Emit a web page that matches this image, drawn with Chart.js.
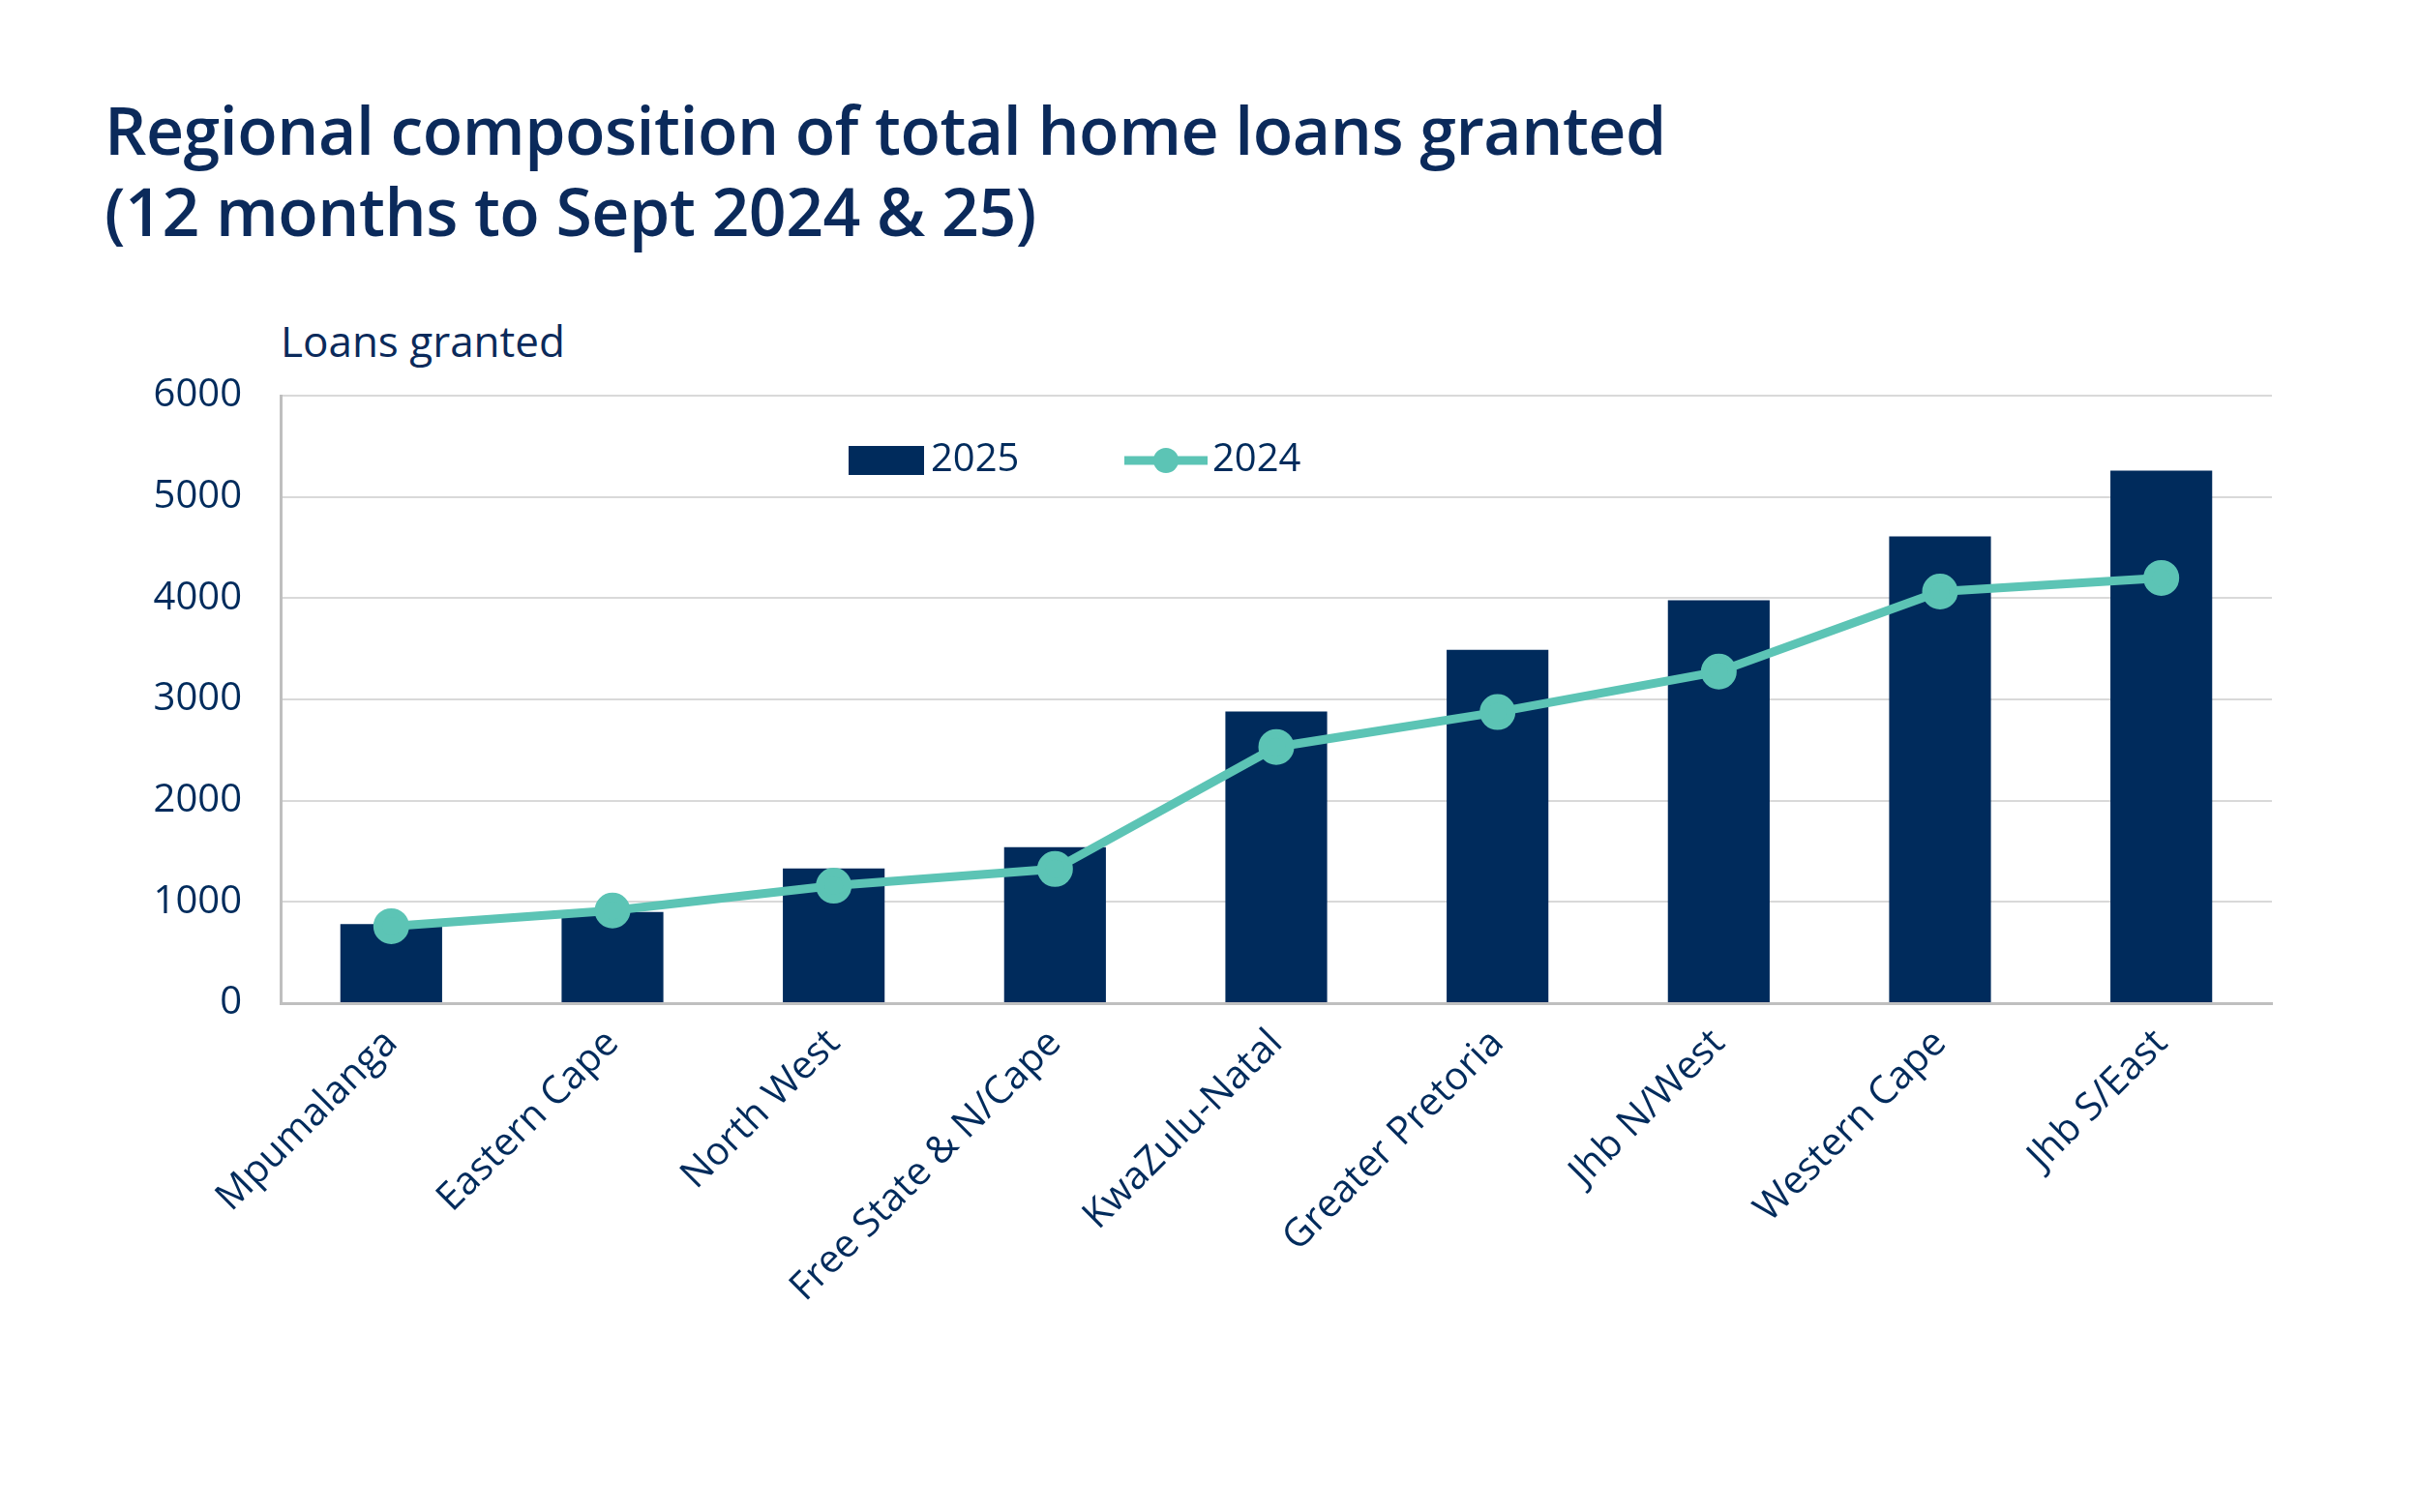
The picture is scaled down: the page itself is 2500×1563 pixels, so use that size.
<!DOCTYPE html>
<html>
<head>
<meta charset="utf-8">
<script src="https://cdn.jsdelivr.net/npm/chart.js@4"></script>
<style>
  body { margin: 0; background: #fff; }
  #wrap { position: relative; width: 2500px; height: 1563px; }
  #title { position: absolute; left: 108px; top: 92px; font-family: "Open Sans", sans-serif; font-weight: 600;
           font-size: 68px; line-height: 84px; color: #0b2a5b; letter-spacing: -0.5px; }
  #ylabel { position: absolute; left: 290px; top: 322px; font-family: "Open Sans", sans-serif;
            font-size: 44px; color: #0b2a5b; }
  canvas { position: absolute; left: 0; top: 0; }
</style>
</head>
<body>
<div id="wrap">
  <div id="title">Regional composition of total home loans granted<br>(12 months to Sept 2024 &amp; 25)</div>
  <div id="ylabel">Loans granted</div>
  <canvas id="chart" width="2500" height="1563"></canvas>
</div>
<script>
var regions = ['Mpumalanga', 'Eastern Cape', 'North West', 'Free State & N/Cape', 'KwaZulu-Natal',
               'Greater Pretoria', 'Jhb N/West', 'Western Cape', 'Jhb S/East'];
var loans2025 = [780, 900, 1330, 1540, 2880, 3490, 3980, 4610, 5260];
var loans2024 = [760, 915, 1160, 1325, 2530, 2875, 3275, 4065, 4200];
var yTicks = [0, 1000, 2000, 3000, 4000, 5000, 6000];

var navy = '#002b5c';
var teal = '#5cc4b5';
var font = '"Open Sans", sans-serif';

// legend drawn inside the plot area
var legendPlugin = {
    id: 'innerLegend',
    afterDraw: function (chart) {
        var c = chart.ctx;
        var y = 476;
        c.save();
        c.font = '40px ' + font;
        c.fillStyle = navy;
        c.textBaseline = 'middle';
        c.fillRect(877, y - 15, 78, 30);
        c.fillText('2025', 962, y);
        c.strokeStyle = teal;
        c.lineWidth = 9;
        c.beginPath(); c.moveTo(1162, y); c.lineTo(1248, y); c.stroke();
        c.fillStyle = teal;
        c.beginPath(); c.arc(1205, y, 13, 0, Math.PI * 2); c.fill();
        c.fillStyle = navy;
        c.fillText('2024', 1253, y);
        c.restore();
    }
};

new Chart(document.getElementById('chart').getContext('2d'), {
    data: {
        labels: regions,
        datasets: [{
            type: 'line', label: '2024', data: loans2024,
            borderColor: teal, backgroundColor: teal, borderWidth: 9,
            pointRadius: 14, pointHoverRadius: 14, order: 0
        }, {
            type: 'bar', label: '2025', data: loans2025,
            backgroundColor: navy, categoryPercentage: 0.92, barPercentage: 0.5, order: 1
        }]
    },
    options: {
        responsive: false,
        animation: false,
        layout: { padding: { left: 130, right: 152, top: 409, bottom: 0 } },
        plugins: { legend: { display: false }, tooltip: { enabled: false } },
        scales: {
            x: {
                grid: { display: false },
                border: { color: '#bfbfbf', width: 3 },
                ticks: { color: navy, font: { family: font, size: 40 }, minRotation: 45, maxRotation: 45, padding: 10 },
                afterFit: function (s) { s.height = 526; }
            },
            y: {
                min: 0, max: 6000,
                afterBuildTicks: function (s) { s.ticks = yTicks.map(function (v) { return { value: v }; }); },
                grid: { color: '#d9d9d9', lineWidth: 2, drawTicks: false },
                border: { color: '#bfbfbf', width: 3 },
                ticks: { color: navy, font: { family: font, size: 40 }, padding: 40,
                         callback: function (v) { return String(v); } },
                afterFit: function (s) { s.width = 160; }
            }
        }
    },
    plugins: [legendPlugin]
});
</script>
</body>
</html>
